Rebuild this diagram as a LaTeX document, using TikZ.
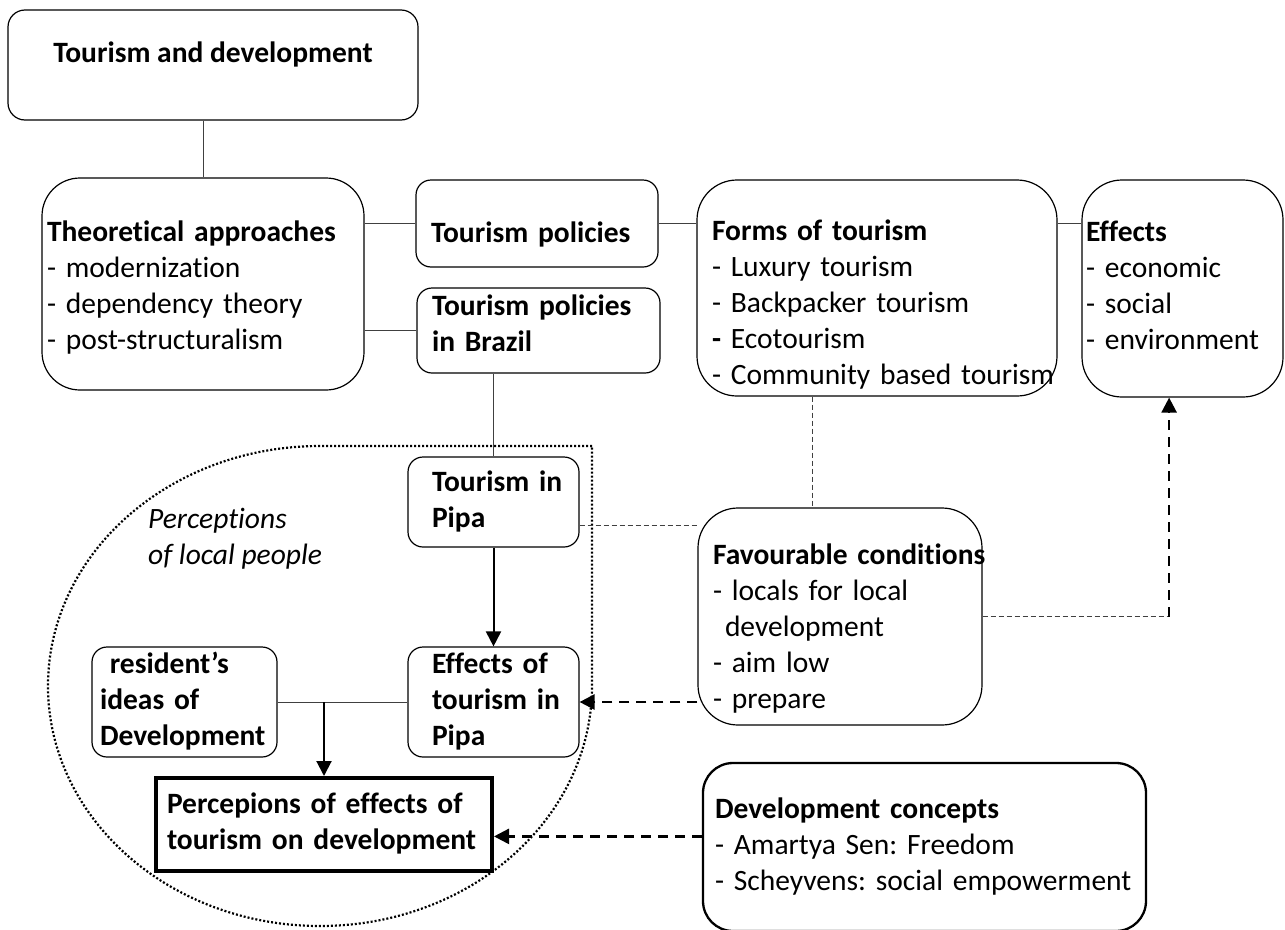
\documentclass[tikz,border=0pt]{standalone}
\usepackage{fontspec}
\setmainfont{Carlito}[Ligatures=NoCommon]
\usepackage{tikz}
\usetikzlibrary{arrows.meta}
\frenchspacing
\newcommand{\boxfont}{\fontsize{29.5pt}{36pt}\selectfont}
\newcommand{\boxrows}[1]{\begin{tabular}{@{}l@{}}#1\end{tabular}}
\tikzset{
  box/.style    = {draw, line width=1.2pt, rounded corners=15pt, align=left,
                   font=\boxfont, inner ysep=0pt},
  bigbox/.style = {box, rounded corners=40pt},
  link/.style   = {line width=1pt, black!75},
  dlink/.style  = {link, dash pattern=on 5pt off 3pt}
}

\begin{document}
\begin{tikzpicture}[
  x=1pt, y=-1pt,
  arr/.style={-{Triangle[length=15pt,width=15pt]}, line width=2pt},
  darr/.style={arr, line width=2.5pt, dash pattern=on 10pt off 7pt}
]
\useasboundingbox (0,0) rectangle (1285,929);

% area of the local people
\draw[line width=2.2pt, dash pattern=on 2pt off 2pt] (592,446) -- (320,446)
  arc[start angle=90, end angle=270, x radius=272pt, y radius=240pt]
  arc[start angle=270, end angle=360, x radius=272pt, y radius=240pt] -- cycle;
\node[font=\boxfont\itshape, align=left, anchor=west, inner sep=0pt] (percl)
  at (148,538.5) {Perceptions\\of local people};

\node[box, rounded corners=17pt, align=center, minimum width=410pt,
      minimum height=110pt] (td) at (213,65)
  {\textbf{Tourism and development}\rule[-26pt]{0pt}{26pt}};
\node[box, rounded corners=38pt, minimum width=322pt, minimum height=212pt,
      inner xsep=5pt, text width=312pt] (theo) at (203,284)
  {\boxrows{\rule{0pt}{34pt}\textbf{Theoretical approaches}\\ - modernization\\
   - dependency theory\\ - post-structuralism}};
\node[box, minimum width=242pt, minimum height=87pt, inner xsep=15pt,
      text width=212pt] (tp) at (537,223.5)
  {\boxrows{\rule{0pt}{48pt}\textbf{Tourism policies}}};
\node[box, minimum width=243pt, minimum height=85pt, inner xsep=15pt,
      text width=213pt] (tpb) at (538.5,330.5)
  {\boxrows{\textbf{Tourism policies}\\
   \textbf{in Brazil}\rule[-20pt]{0pt}{20pt}}};
\node[bigbox, minimum width=360pt, minimum height=216pt, inner xsep=15pt,
      text width=330pt] (forms) at (877,288)
  {\boxrows{\rule{0pt}{60pt}\textbf{Forms of tourism}\\ - Luxury tourism\\
   - Backpacker tourism\\ \textbf{-} Ecotourism\\ - Community based tourism}};
\node[bigbox, minimum width=201pt, minimum height=217pt, inner xsep=4pt,
      text width=193pt] (eff) at (1182.5,288.5)
  {\boxrows{\textbf{Effects}\\ - economic\\ - social\\ - environment}};

\node[box, minimum width=171pt, minimum height=90pt, inner xsep=24pt,
      text width=123pt] (pipa) at (493.5,502)
  {\boxrows{\textbf{Tourism in}\\ \textbf{Pipa}}};
\node[box, minimum width=171pt, minimum height=110pt, inner xsep=24pt,
      text width=123pt] (effpipa) at (493.5,702)
  {\boxrows{\textbf{Effects of}\\ \textbf{tourism in}\\ \textbf{Pipa}}};
\node[box, minimum width=185pt, minimum height=110pt, inner xsep=8pt,
      text width=169pt] (res) at (184.5,702)
  {\boxrows{\textbf{\ resident’s}\\ \textbf{ideas of}\\ \textbf{Development}}};
\node[box, rounded corners=0pt, line width=4pt, minimum width=336pt,
      minimum height=93pt, inner xsep=11pt, text width=314pt] (perc) at (324,824.5)
  {\boxrows{\textbf{Percepions of effects of}\\ \textbf{tourism on development}}};

\node[bigbox, minimum width=284pt, minimum height=217pt, inner xsep=15pt,
      text width=254pt] (fav) at (840,616.5)
  {\boxrows{\rule{0pt}{50pt}\textbf{Favourable conditions}\\
   - locals for local\\ \hspace{12pt}development\\ - aim low\\ - prepare}};
\node[box, rounded corners=30pt, line width=2.3pt, minimum width=443pt,
      minimum height=168pt, inner xsep=12pt, text width=419pt] (dev) at (924.5,847)
  {\boxrows{\textbf{Development concepts}\\ - Amartya Sen: Freedom\\
   - Scheyvens: social empowerment}};

% plain links
\draw[link] (theo.north |- td.south) -- (theo.north);
\draw[link] (theo.east |- tp.west) -- (tp.west);
\draw[link] (theo.east |- tpb.west) -- (tpb.west);
\draw[link] (tp.east) -- (tp.east -| forms.west);
\draw[link] (tp.east -| forms.east) -- (tp.east -| eff.west);
\draw[link] (pipa.north |- tpb.south) -- (pipa.north);
\draw[link] (res.east) -- (effpipa.west);

% dashed links
\draw[dlink] (pipa.-15) -- (pipa.-15 -| fav.west);
\draw[dlink] (fav.104 |- forms.south) -- (fav.104);
\coordinate (turn) at (eff.-97 |- fav.east);
\draw[dlink] (fav.east) -- (turn);

% arrows
\draw[arr] (pipa) -- (effpipa);
\draw[arr] (perc.north |- res.east) -- (perc.north);
\draw[darr] (turn) -- (eff.-97);
\draw[darr] (effpipa.east -| fav.west) -- (effpipa.east);
\draw[darr] (perc.-4 -| dev.west) -- (perc.-4);

\end{tikzpicture}
\end{document}
